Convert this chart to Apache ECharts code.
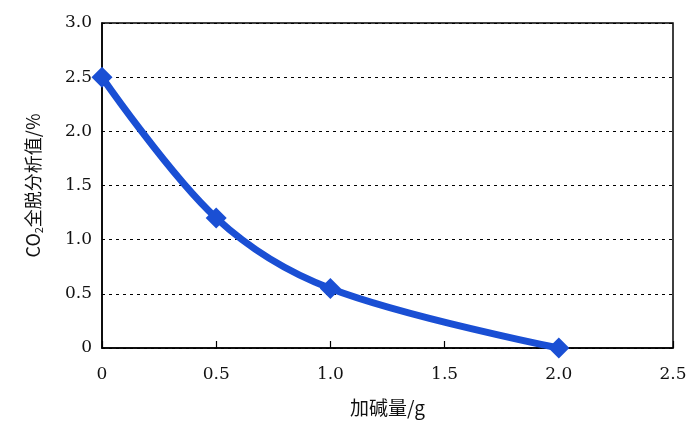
<!DOCTYPE html>
<html><head><meta charset="utf-8">
<script src="https://cdn.jsdelivr.net/npm/echarts@6/dist/echarts.min.js"></script>
<style>html,body{margin:0;padding:0;background:#fff}#c{width:700px;height:438px}</style>
</head><body><div id="c"></div>
<script>
const xValues = [0, 0.5, 1.0, 2.0];
const yValues = [2.5, 1.2, 0.55, 0];
const xName = '加碱量/g';
const yName = 'CO{sub|2}全脱分析值/%';
const fmt = v => v === 0 ? '0' : v.toFixed(1);
const numFont = '"DejaVu Serif", "Liberation Serif", serif';
const cjkFont = '"Noto Sans CJK SC", "Liberation Serif", serif';
const chart = echarts.init(document.getElementById('c'), null, {renderer: 'canvas'});
chart.setOption({
  animation: false,
  backgroundColor: '#fff',
  grid: {left: 102, right: 27, top: 23, bottom: 90, show: true, borderColor: '#000', borderWidth: 1.5},
  xAxis: {
    type: 'value', min: 0, max: 2.5, interval: 0.5,
    name: xName, nameLocation: 'middle', nameGap: 50,
    nameTextStyle: {fontFamily: cjkFont, fontSize: 19, color: '#111'},
    axisLine: {show: true, lineStyle: {color: '#000', width: 1.5}},
    axisTick: {show: true, inside: true, length: 7, lineStyle: {color: '#000', width: 1.2}},
    axisLabel: {formatter: fmt, fontFamily: numFont, fontSize: 17, color: '#111', margin: 18},
    splitLine: {show: false}
  },
  yAxis: {
    type: 'value', min: 0, max: 3.0, interval: 0.5,
    name: yName, nameLocation: 'middle', nameGap: 58, nameRotate: 90,
    nameTextStyle: {fontFamily: cjkFont, fontSize: 18, color: '#111',
      rich: {sub: {fontFamily: cjkFont, fontSize: 11, color: '#111', verticalAlign: 'bottom', padding: [10, 0, 0, 0]}}},
    axisLine: {show: true, lineStyle: {color: '#000', width: 1.5}},
    axisTick: {show: false},
    axisLabel: {formatter: fmt, fontFamily: numFont, fontSize: 17, color: '#111', margin: 10},
    splitLine: {show: true, lineStyle: {color: '#000', type: [3, 4], width: 1.2}}
  },
  series: [{
    type: 'line', smooth: 0.35,
    data: xValues.map((x, i) => [x, yValues[i]]),
    symbol: 'diamond', symbolSize: 21,
    lineStyle: {color: '#1a4fd4', width: 7},
    itemStyle: {color: '#1a4fd4'},
    z: 5
  }]
});
</script></body></html>
